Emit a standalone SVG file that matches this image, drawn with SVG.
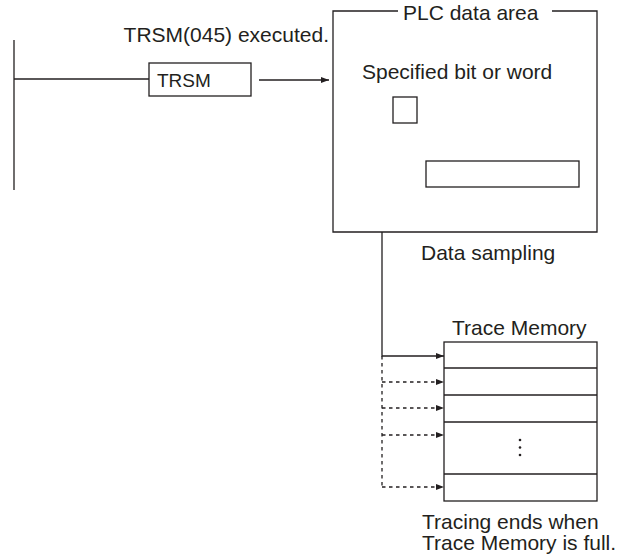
<svg xmlns="http://www.w3.org/2000/svg" width="619" height="560" viewBox="0 0 619 560">
<defs>
<style>
.ln{stroke:#231f20;stroke-width:1.3;fill:none}
.dash{stroke:#231f20;stroke-width:1.3;fill:none;stroke-dasharray:3.5,3.5}
.bx{stroke:#231f20;stroke-width:1.3;fill:#fff}
.t{font-family:"Liberation Sans",Arial,sans-serif;font-size:21px;fill:#231f20}
</style>
<marker id="ah" markerWidth="8" markerHeight="6" refX="8" refY="3" orient="auto" markerUnits="userSpaceOnUse">
<path d="M0,0 L8,3 L0,6 Z" fill="#231f20"/>
</marker>
</defs>
<rect width="619" height="560" fill="#fff"/>
<g id="ladder">
<line class="ln" x1="14" y1="40" x2="14" y2="190"/>
<line class="ln" x1="14" y1="79" x2="149" y2="79"/>
<text class="t" x="329" y="42" text-anchor="end">TRSM(045) executed.</text>
</g>
<g id="trsm">
<rect class="bx" x="149" y="63" width="102" height="33"/>
<text class="t" x="157" y="87" style="font-size:19px">TRSM</text>
</g>
<g id="plc">
<path class="ln" d="M398,11 H333 V232 H597 V11 H552"/>
<text class="t" x="403" y="20">PLC data area</text>
<text class="t" x="362" y="79">Specified bit or word</text>
<rect class="bx" x="393" y="97" width="24" height="26"/>
<rect class="bx" x="426" y="161" width="153" height="26"/>
</g>
<g id="trace">
<text class="t" x="452" y="335">Trace Memory</text>
<rect class="bx" x="444" y="342" width="153" height="159"/>
<line class="ln" x1="444" y1="368" x2="597" y2="368"/>
<line class="ln" x1="444" y1="395" x2="597" y2="395"/>
<line class="ln" x1="444" y1="422" x2="597" y2="422"/>
<line class="ln" x1="444" y1="474" x2="597" y2="474"/>
<circle cx="520" cy="440" r="1.3" fill="#231f20"/>
<circle cx="520" cy="447.5" r="1.3" fill="#231f20"/>
<circle cx="520" cy="455" r="1.3" fill="#231f20"/>
<text class="t"><tspan x="422" y="529">Tracing ends when</tspan><tspan x="422" y="550">Trace Memory is full.</tspan></text>
</g>
<g id="sampling">
<text class="t" x="421" y="260">Data sampling</text>
</g>
<g id="connectors">
<line class="ln" x1="259" y1="80" x2="329" y2="80" marker-end="url(#ah)"/>
<path class="ln" d="M382,232 V356 H444" marker-end="url(#ah)"/>
<line class="dash" x1="382" y1="356" x2="382" y2="487"/>
<line class="dash" x1="382" y1="382" x2="444" y2="382" marker-end="url(#ah)"/>
<line class="dash" x1="382" y1="408" x2="444" y2="408" marker-end="url(#ah)"/>
<line class="dash" x1="382" y1="435" x2="444" y2="435" marker-end="url(#ah)"/>
<line class="dash" x1="382" y1="487" x2="444" y2="487" marker-end="url(#ah)"/>
</g>
</svg>
